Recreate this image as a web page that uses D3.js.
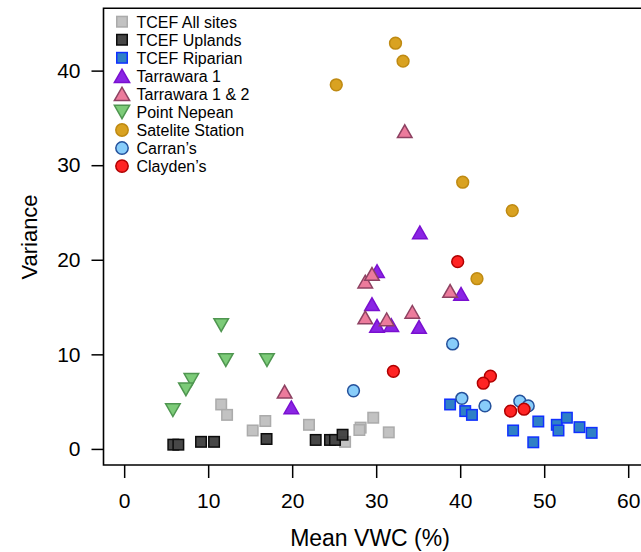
<!DOCTYPE html>
<html>
<head>
<meta charset="utf-8">
<script src="https://cdn.jsdelivr.net/npm/d3@7"></script>
<style>
  body { margin: 0; background: #fff; }
  svg { font-family: "Liberation Sans", Arial, Helvetica, sans-serif; }
</style>
</head>
<body>
<div id="chart"></div>
<script>
// data: [mean VWC %, variance]
const tcefAll = [[11.55, 4.7], [12.25, 3.6], [16.8, 2.95], [15.3, 1.95], [22.0, 2.55],
  [28.15, 2.25], [28.0, 2.0], [29.65, 3.3], [31.5, 1.75], [26.3, 0.75]];
const tcefUplands = [[5.85, 0.45], [6.45, 0.45], [9.15, 0.75], [10.7, 0.75], [16.95, 1.05],
  [22.8, 0.95], [24.5, 0.95], [25.1, 0.95], [26.0, 1.5]];
const tcefRiparian = [[38.8, 4.7], [40.6, 4.0], [41.4, 3.6], [46.3, 1.95], [48.7, 0.7],
  [49.3, 2.9], [51.5, 2.55], [51.7, 1.95], [52.7, 3.3], [54.2, 2.3], [55.65, 1.7]];
const tarrawara1 = [[35.2, 22.9], [30.1, 18.8], [29.5, 15.3], [30.1, 13.0], [31.8, 13.1],
  [35.1, 12.9], [40.1, 16.4], [19.9, 4.4]];
const tarrawara12 = [[33.4, 33.6], [28.7, 17.7], [29.5, 18.5], [28.7, 13.9], [31.25, 13.7],
  [34.3, 14.5], [38.8, 16.7], [19.1, 6.05]];
const pointNepean = [[11.55, 13.1], [12.1, 9.4], [17.0, 9.4], [8.0, 7.3], [7.35, 6.3], [5.8, 4.1]];
const sateliteStation = [[32.3, 42.9], [33.2, 41.0], [25.25, 38.5], [40.3, 28.2], [46.2, 25.2], [42.0, 18.0]];
const carrans = [[39.1, 11.1], [27.3, 6.15], [40.2, 5.35], [42.95, 4.55], [47.1, 5.05], [48.1, 4.55]];
const claydens = [[39.7, 19.8], [32.05, 8.2], [43.6, 7.7], [42.75, 6.95], [46.0, 4.0], [47.6, 4.2]];

const xTicks = [0, 10, 20, 30, 40, 50, 60];
const yTicks = [0, 10, 20, 30, 40];

const series = [
  { name: "TCEF All sites", data: tcefAll, shape: "square", fill: "#bcbcbc", stroke: "#a2a2a2", op: 0.9 },
  { name: "TCEF Uplands", data: tcefUplands, shape: "square", fill: "#3e3e3e", stroke: "#000", op: 0.95 },
  { name: "TCEF Riparian", data: tcefRiparian, shape: "square", fill: "#2f80c6", stroke: "#1030ff", op: 1 },
  { name: "Tarrawara 1", data: tarrawara1, shape: "up", fill: "#8a25e4", stroke: "#7a10d0", op: 1 },
  { name: "Tarrawara 1 & 2", data: tarrawara12, shape: "up", fill: "#ec7b9c", stroke: "#8e4262", op: 1 },
  { name: "Point Nepean", data: pointNepean, shape: "down", fill: "#7ccb78", stroke: "#4f9650", op: 1 },
  { name: "Satelite Station", data: sateliteStation, shape: "circle", fill: "#d9a221", stroke: "#bf8a12", op: 1 },
  { name: "Carran\u2019s", data: carrans, shape: "circle", fill: "#88cdfa", stroke: "#24519c", op: 1 },
  { name: "Clayden\u2019s", data: claydens, shape: "circle", fill: "#ff2424", stroke: "#b00000", op: 1 }
];

const W = 641, H = 552;
const svg = d3.select("#chart").append("svg").attr("width", W).attr("height", H);

const x = d3.scaleLinear().domain([-2.46, 61.5]).range([103.5, 640.8]);
const y = d3.scaleLinear().domain([-1.7, 46.6]).range([465, 8.2]);

// marker drawing
function marker(g, shape, cx, cy, s) {
  if (shape === "square") {
    return g.append("rect").attr("x", cx - s / 2).attr("y", cy - s / 2).attr("width", s).attr("height", s);
  } else if (shape === "circle") {
    return g.append("circle").attr("cx", cx).attr("cy", cy).attr("r", s / 2);
  } else {
    const w = s * 1.12, h = s * 0.98;
    const p = shape === "up"
      ? `M${cx - w / 2},${cy + h / 2}L${cx + w / 2},${cy + h / 2}L${cx},${cy - h / 2}Z`
      : `M${cx - w / 2},${cy - h / 2}L${cx + w / 2},${cy - h / 2}L${cx},${cy + h / 2}Z`;
    return g.append("path").attr("d", p);
  }
}

function sizeOf(shape) {
  return shape === "square" ? 10.5 : shape === "circle" ? 11.8 : 13;
}

// axes
const xAxis = svg.append("g")
  .attr("transform", "translate(0,465)")
  .call(d3.axisBottom(x).tickValues(xTicks).tickSize(13).tickPadding(15));
const yAxis = svg.append("g")
  .attr("transform", "translate(103.5,0)")
  .call(d3.axisLeft(y).tickValues(yTicks).tickSize(12).tickPadding(11));

[xAxis, yAxis].forEach(a => {
  a.select(".domain").remove();
  a.selectAll(".tick line").attr("stroke", "#000").attr("stroke-width", 1.5);
  a.selectAll(".tick text").attr("fill", "#000").style("font-size", "21px")
    .style("font-family", "'Liberation Sans', Arial, Helvetica, sans-serif");
});

// frame (right side runs off the page)
svg.append("path")
  .attr("d", "M645,8.2H103.5V465H645")
  .attr("fill", "none").attr("stroke", "#000").attr("stroke-width", 1.6);

// points
const pts = svg.append("g");
series.forEach(s => {
  const g = pts.append("g").attr("opacity", s.op);
  s.data.forEach(d => {
    marker(g, s.shape, x(d[0]), y(d[1]), sizeOf(s.shape))
      .attr("fill", s.fill).attr("stroke", s.stroke).attr("stroke-width", 1.5);
  });
});

// legend
const legend = svg.append("g");
series.forEach((s, i) => {
  const ly = 21.7 + i * 18.05;
  marker(legend.append("g").attr("opacity", s.op), s.shape, 122, ly, sizeOf(s.shape) * (s.shape === "square" ? 1.0 : 1.05))
    .attr("fill", s.fill).attr("stroke", s.stroke).attr("stroke-width", 1.5);
  legend.append("text")
    .attr("x", 136.5).attr("y", ly + 5.8)
    .style("font-size", "16px")
    .text(s.name);
});

// axis titles
svg.append("text")
  .attr("x", 370).attr("y", 546)
  .attr("text-anchor", "middle")
  .style("font-size", "23px")
  .text("Mean VWC (%)");

svg.append("text")
  .attr("transform", "translate(37,237) rotate(-90)")
  .attr("text-anchor", "middle")
  .style("font-size", "22px")
  .text("Variance");
</script>
</body>
</html>
